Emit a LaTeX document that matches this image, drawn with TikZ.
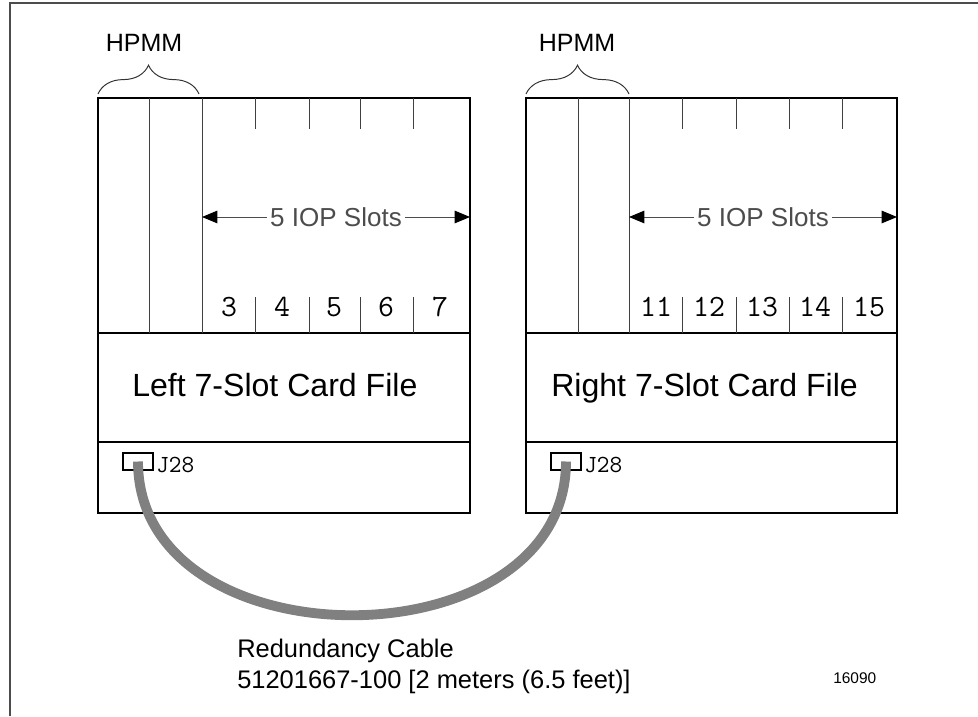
\documentclass[tikz,border=0pt]{standalone}
\usepackage{fontspec}
\setmainfont{Liberation Sans}
\usetikzlibrary{arrows.meta,decorations.pathreplacing}

\begin{document}
\begin{tikzpicture}[x=0.025cm, y=-0.025cm,
    frame/.style={line width=1pt, black!70},
    cardbox/.style={line width=1.8pt},
    divider/.style={line width=0.7pt, black!75},
    hpmmbrace/.style={decorate, decoration={brace, amplitude=0.72cm}, line width=0.7pt, black!80},
    iopspan/.style={line width=0.7pt, black!70,
      {Triangle[length=11pt,width=9pt,color=black]}-{Triangle[length=11pt,width=9pt,color=black]}},
    hpmmlabel/.style={anchor=base, font=\fontsize{17.8}{20}\selectfont},
    ioplabel/.style={fill=white, inner xsep=2pt, inner ysep=1pt, font=\fontsize{18.5}{21}\selectfont},
    slotlabel/.style={anchor=base, font=\ttfamily\fontsize{22}{24}\selectfont},
    filelabel/.style={anchor=base west, inner sep=0pt, font=\fontsize{22.8}{26}\selectfont},
    jack/.style={draw, line width=1.4pt, minimum width=0.75cm, minimum height=0.42cm, inner sep=0pt},
    jacklabel/.style={anchor=base west, inner sep=0pt, font=\ttfamily\fontsize{17.5}{20}\selectfont},
    cable/.style={line width=7pt, black!50},
    cablelabel/.style={anchor=base west, inner sep=0pt, font=\fontsize{18.1}{21}\selectfont}
  ]
  \useasboundingbox (0,0) rectangle (978,716);

  % Page frame
  \draw[frame] (10,716) -- (10,3) -- (978,3);

  % Left 7-slot card file
  \draw[cardbox] (98,98) rectangle (470,513);
  \draw[cardbox] (98,333) -- (470,333);
  \draw[cardbox] (98,442) -- (470,442);
  % HPMM slots
  \draw[divider] (149,98) -- (149,333);
  \draw[divider] (202,98) -- (202,333);
  % IOP slot ticks
  \draw[divider] (255,98) -- ++(0,31);
  \draw[divider] (309,98) -- ++(0,31);
  \draw[divider] (360,98) -- ++(0,31);
  \draw[divider] (413,98) -- ++(0,31);
  \draw[divider] (255,297) -- (255,333);
  \draw[divider] (309,297) -- (309,333);
  \draw[divider] (360,297) -- (360,333);
  \draw[divider] (413,297) -- (413,333);

  \draw[hpmmbrace] (98,94) -- (199,94);
  \node[hpmmlabel] (hpmmL) at (144,52) {HPMM};

  \coordinate (iopLa) at (202,217);
  \coordinate (iopLb) at (470,217);
  \draw[iopspan] (iopLa) -- node[ioplabel] (iopL) {5 IOP Slots} (iopLb);

  \node[slotlabel] (slot3) at (229,316) {3};
  \node[slotlabel] (slot4) at (282,316) {4};
  \node[slotlabel] (slot5) at (334,316) {5};
  \node[slotlabel] (slot6) at (386,316) {6};
  \node[slotlabel] (slot7) at (440,316) {7};

  \node[filelabel] (fileL) at (132,396) {Left 7-Slot Card File};

  % Right 7-slot card file
  \draw[cardbox] (526,98) rectangle (897,513);
  \draw[cardbox] (526,333) -- (897,333);
  \draw[cardbox] (526,442) -- (897,442);
  % HPMM slots
  \draw[divider] (578,98) -- (578,333);
  \draw[divider] (629,98) -- (629,333);
  % IOP slot ticks
  \draw[divider] (682,98) -- ++(0,31);
  \draw[divider] (736,98) -- ++(0,31);
  \draw[divider] (789,98) -- ++(0,31);
  \draw[divider] (842,98) -- ++(0,31);
  \draw[divider] (682,297) -- (682,333);
  \draw[divider] (736,297) -- (736,333);
  \draw[divider] (789,297) -- (789,333);
  \draw[divider] (842,297) -- (842,333);

  \draw[hpmmbrace] (526,94) -- (629,94);
  \node[hpmmlabel] (hpmmR) at (577,52) {HPMM};

  \coordinate (iopRa) at (629,217);
  \coordinate (iopRb) at (897,217);
  \draw[iopspan] (iopRa) -- node[ioplabel] (iopR) {5 IOP Slots} (iopRb);

  \node[slotlabel] (slot11) at (656,316) {11};
  \node[slotlabel] (slot12) at (709,316) {12};
  \node[slotlabel] (slot13) at (762,316) {13};
  \node[slotlabel] (slot14) at (815,316) {14};
  \node[slotlabel] (slot15) at (869,316) {15};

  \node[filelabel] (fileR) at (551,396) {Right 7-Slot Card File};

  % J28 connectors
  \node[jack] (jackL) at (138,461.5) {};
  \node[jacklabel] (j28L) at (156,472) {J28};
  \node[jack] (jackR) at (566,461.5) {};
  \node[jacklabel] (j28R) at (584,472) {J28};

  % Redundancy cable
  \draw[cable] (jackL.center) .. controls +(0,205) and +(0,205) .. (jackR.center);

  \node[cablelabel] (cableName) at (237,657) {Redundancy Cable};
  \node[cablelabel] (cablePart) at (237,688) {51201667-100 [2 meters (6.5 feet)]};

  \node[anchor=base west, inner sep=0pt, font=\fontsize{11}{13}\selectfont] (figno) at (833,683) {16090};

\end{tikzpicture}
\end{document}
